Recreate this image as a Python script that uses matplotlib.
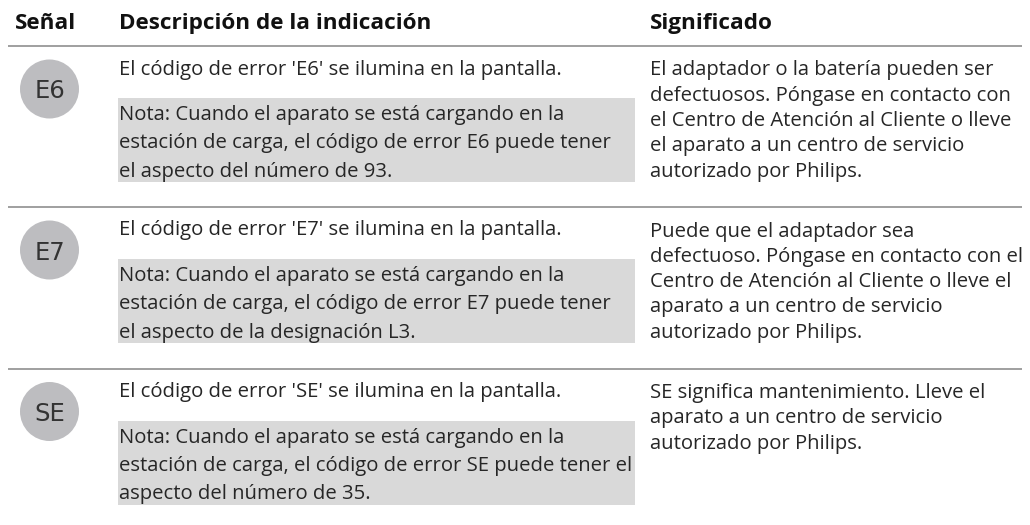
import matplotlib
matplotlib.use("Agg")
import matplotlib.pyplot as plt
from matplotlib.patches import Circle, Rectangle

plt.rcParams['font.family'] = ['Open Sans', 'DejaVu Sans']

headers = ["Señal", "Descripción de la indicación", "Significado"]
codes = ["E6", "E7", "SE"]
descriptions = ["El código de error 'E6' se ilumina en la pantalla.",
                "El código de error 'E7' se ilumina en la pantalla.",
                "El código de error 'SE' se ilumina en la pantalla."]
notes = [
    ["Nota: Cuando el aparato se está cargando en la",
     "estación de carga, el código de error E6 puede tener",
     "el aspecto del número de 93."],
    ["Nota: Cuando el aparato se está cargando en la",
     "estación de carga, el código de error E7 puede tener",
     "el aspecto de la designación L3."],
    ["Nota: Cuando el aparato se está cargando en la",
     "estación de carga, el código de error SE puede tener el",
     "aspecto del número de 35."],
]
meanings = [
    ["El adaptador o la batería pueden ser", "defectuosos. Póngase en contacto con",
     "el Centro de Atención al Cliente o lleve", "el aparato a un centro de servicio",
     "autorizado por Philips."],
    ["Puede que el adaptador sea", "defectuoso. Póngase en contacto con el",
     "Centro de Atención al Cliente o lleve el", "aparato a un centro de servicio",
     "autorizado por Philips."],
    ["SE significa mantenimiento. Lleve el", "aparato a un centro de servicio",
     "autorizado por Philips."],
]

row_tops = [46, 207, 368.5]
TXT = '#262626'
FS = 14.6

fig = plt.figure(figsize=(10.30, 5.25), dpi=100)
ax = fig.add_axes([0, 0, 1, 1])
ax.set_xlim(0, 1030)
ax.set_ylim(525, 0)
ax.axis('off')

for x, h in zip([15, 119, 650], headers):
    ax.text(x, 29, h, fontsize=16.2, fontweight='bold', color='#111111', va='baseline', ha='left')

for y in row_tops:
    ax.plot([8, 1022], [y, y], color='#8f8f8f', lw=1.2, solid_capstyle='butt')

for top, code, desc, note, mean in zip(row_tops, codes, descriptions, notes, meanings):
    ax.add_patch(Circle((49.5, top + 43), 29.5, facecolor='#bdbdc0', edgecolor='none'))
    ax.text(49.8, top + 52.5, code, fontsize=17.5, family='Liberation Sans Narrow', color='#333333',
            ha='center', va='baseline')
    ax.text(119, top + 28.5, desc, fontsize=FS, color=TXT, va='baseline', ha='left')
    ax.add_patch(Rectangle((118, top + 52), 517, 84,
                           facecolor='#d9d9d9', edgecolor='none', zorder=0.5))
    for i, ln in enumerate(note):
        ax.text(119, top + 74 + i * 28.3, ln, fontsize=FS, color=TXT, va='baseline', ha='left')
    for i, ln in enumerate(mean):
        ax.text(650, top + 29.5 + i * 25.3, ln, fontsize=FS, color=TXT, va='baseline', ha='left')

fig.savefig('out.png', dpi=100)
